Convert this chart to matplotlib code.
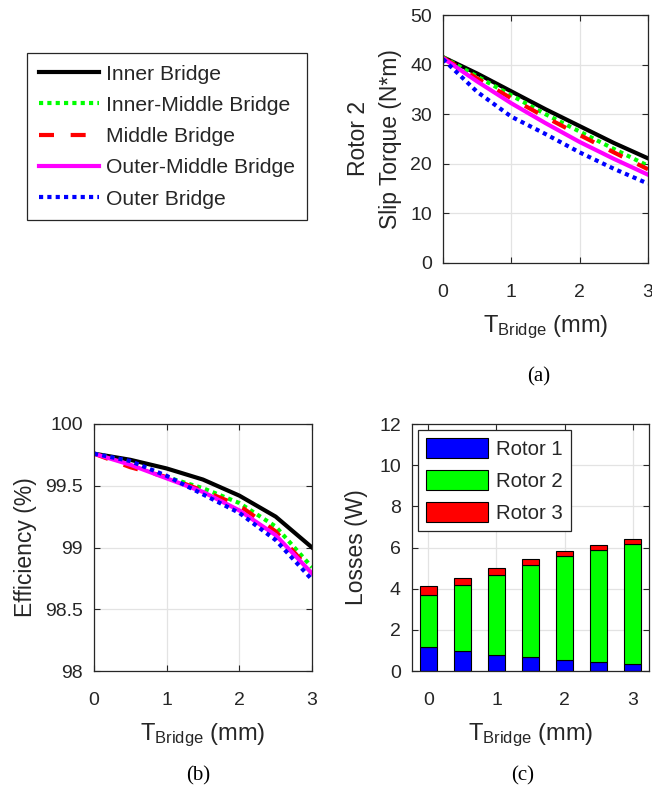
import matplotlib.pyplot as plt
import numpy as np
from matplotlib.ticker import FuncFormatter

plt.rcParams['font.family'] = ['Liberation Sans', 'DejaVu Sans']
plt.rcParams['mathtext.fontset'] = 'custom'
plt.rcParams['mathtext.rm'] = 'Liberation Sans'
plt.rcParams['mathtext.it'] = 'Liberation Sans:italic'

# bridge thickness (mm)
t_bridge = [0, 0.5, 1.0, 1.5, 2.0, 2.5, 3.0]

bridge_names = ['Inner Bridge', 'Inner-Middle Bridge', 'Middle Bridge',
                'Outer-Middle Bridge', 'Outer Bridge']

# rotor 2 slip torque (N*m)
torque_inner = [41.5, 38.2, 34.6, 31.0, 27.6, 24.2, 21.1]
torque_inner_mid = [41.5, 37.6, 33.8, 30.0, 26.5, 23.0, 19.6]
torque_middle = [41.4, 37.2, 33.2, 29.4, 25.8, 22.3, 18.9]
torque_outer_mid = [41.3, 36.6, 32.2, 28.2, 24.4, 21.0, 17.8]
torque_outer = [41.1, 34.5, 29.5, 26.0, 22.3, 19.0, 16.0]

# efficiency (%)
eff_inner = [99.76, 99.71, 99.64, 99.55, 99.42, 99.25, 99.00]
eff_inner_mid = [99.76, 99.69, 99.57, 99.48, 99.36, 99.17, 98.84]
eff_middle = [99.76, 99.65, 99.57, 99.46, 99.34, 99.13, 98.80]
eff_outer_mid = [99.76, 99.67, 99.56, 99.45, 99.30, 99.10, 98.79]
eff_outer = [99.76, 99.70, 99.58, 99.43, 99.28, 99.06, 98.74]

# losses per rotor (W)
loss_rotor1 = [1.17, 0.96, 0.80, 0.68, 0.55, 0.42, 0.36]
loss_rotor2 = [2.53, 3.21, 3.85, 4.49, 5.03, 5.45, 5.83]
loss_rotor3 = [0.43, 0.37, 0.33, 0.29, 0.26, 0.24, 0.24]

torques = [torque_inner, torque_inner_mid, torque_middle, torque_outer_mid, torque_outer]
effs = [eff_inner, eff_inner_mid, eff_middle, eff_outer_mid, eff_outer]

styles = [
    dict(color='black', linestyle='-'),
    dict(color='#00ff00', linestyle=(0, (1, 1))),
    dict(color='red', linestyle=(0, (3.6, 4))),
    dict(color='magenta', linestyle='-'),
    dict(color='blue', linestyle=(0, (1, 1))),
]

axis_gray = '#262626'
xlab = r'T$_{\mathrm{Bridge}}$ (mm)'
tick_fs = 14
label_fs = 16.5

fig = plt.figure(figsize=(6.52, 7.95), dpi=100)
W, H = 652, 795


def px_axes(x0, y0, x1, y1):
    return fig.add_axes([x0 / W, 1 - y1 / H, (x1 - x0) / W, (y1 - y0) / H])


def matlab_style(ax):
    for s in ax.spines.values():
        s.set_color(axis_gray)
        s.set_linewidth(0.9)
    ax.tick_params(direction='in', top=True, right=True, colors=axis_gray,
                   labelsize=tick_fs, length=4, width=0.8, labelcolor=axis_gray)
    ax.tick_params(axis='x', pad=15)
    ax.tick_params(axis='y', pad=8)
    ax.grid(True, color='#e3e3e3', linewidth=0.9)
    ax.set_axisbelow(True)
    ax.set_xlabel(xlab, fontsize=label_fs + 0.5, color=axis_gray, labelpad=9)


# (a) slip torque
ax1 = px_axes(443, 15, 648, 263)
for y, st in zip(torques, styles):
    ax1.plot(t_bridge, y, linewidth=3, **st)
ax1.set_xlim(0, 3)
ax1.set_ylim(0, 50)
ax1.set_xticks([0, 1, 2, 3])
ax1.set_yticks(range(0, 51, 10))
matlab_style(ax1)
ax1.set_ylabel('Rotor 2\nSlip Torque (N*m)', fontsize=label_fs, color=axis_gray,
               linespacing=1.5, labelpad=6)

# (b) efficiency
ax2 = px_axes(94, 424, 312, 671)
for y, st in zip(effs, styles):
    ax2.plot(t_bridge, y, linewidth=3, **st)
ax2.set_xlim(0, 3)
ax2.set_ylim(98, 100)
ax2.set_xticks([0, 1, 2, 3])
ax2.set_yticks([98, 98.5, 99, 99.5, 100])
ax2.yaxis.set_major_formatter(FuncFormatter(lambda v, p: '%g' % v))
matlab_style(ax2)
ax2.set_ylabel('Efficiency (%)', fontsize=label_fs, color=axis_gray, labelpad=6)

# (c) stacked losses
ax3 = px_axes(412, 424, 649, 671)
r1 = np.array(loss_rotor1)
r2 = np.array(loss_rotor2)
r3 = np.array(loss_rotor3)
bw = 0.245
ax3.bar(t_bridge, r1, bw, color='blue', edgecolor='black', linewidth=0.8, label='Rotor 1')
ax3.bar(t_bridge, r2, bw, bottom=r1, color='#00ff00', edgecolor='black', linewidth=0.8, label='Rotor 2')
ax3.bar(t_bridge, r3, bw, bottom=r1 + r2, color='red', edgecolor='black', linewidth=0.8, label='Rotor 3')
ax3.set_xlim(-0.24, 3.24)
ax3.set_ylim(0, 12)
ax3.set_xticks([0, 1, 2, 3])
ax3.set_yticks(range(0, 13, 2))
matlab_style(ax3)
ax3.set_ylabel('Losses (W)', fontsize=label_fs, color=axis_gray, labelpad=8)
leg3 = ax3.legend(loc='upper left', fontsize=14.7, fancybox=False, edgecolor=axis_gray,
                  handlelength=3.0, handleheight=1.1, borderaxespad=0.3,
                  labelspacing=0.55, handletextpad=0.4, framealpha=1)
leg3.get_frame().set_linewidth(0.9)
for t in leg3.get_texts():
    t.set_color(axis_gray)

# shared line legend
handles = ax1.get_lines()
leg = fig.legend(handles, bridge_names, loc='upper left', mode='expand',
                 bbox_to_anchor=(27 / W, 1 - 217 / H, 280 / W, 164 / H),
                 borderaxespad=0, borderpad=0.55, fontsize=15.2, fancybox=False,
                 edgecolor=axis_gray, handlelength=2.85, labelspacing=0.58,
                 handletextpad=0.35, framealpha=1)
leg.get_frame().set_linewidth(0.9)
for t in leg.get_texts():
    t.set_color(axis_gray)

# panel captions
for x, y, s in [(539, 377, '(a)'), (198, 776, '(b)'), (523, 776, '(c)')]:
    fig.text(x / W, 1 - y / H, s, fontsize=15, family='Liberation Serif',
             ha='center', va='center')

fig.savefig('out.png', dpi=100)
